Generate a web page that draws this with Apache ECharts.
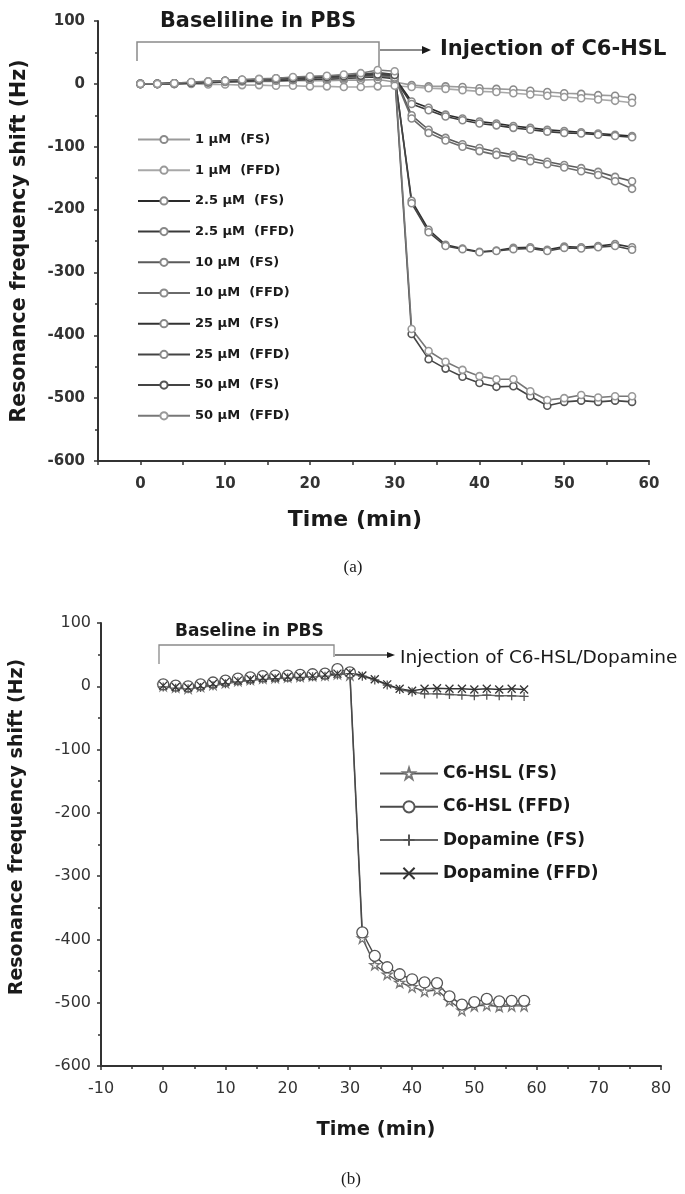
<!DOCTYPE html>
<html><head><meta charset="utf-8">
<script src="https://cdn.jsdelivr.net/npm/echarts@6/dist/echarts.min.js"></script>
<style>html,body{margin:0;padding:0;background:#fff}#c{width:685px;height:1194px}</style>
</head><body><div id="c"></div>
<script>
// ---------- DATA ----------
const times = [0,2,4,6,8,10,12,14,16,18,20,22,24,26,28,30,32,34,36,38,40,42,44,46,48,50,52,54,56,58];

// Panel (a)
const namesA = ['1 μM  (FS)','1 μM  (FFD)','2.5 μM  (FS)','2.5 μM  (FFD)','10 μM  (FS)','10 μM  (FFD)','25 μM  (FS)','25 μM  (FFD)','50 μM  (FS)','50 μM  (FFD)'];
const a1FS   = [0,0,0,1,2,3,3,4,4,5,5,5,6,6,7, 3,-2,-4,-4,-5,-7,-8,-9,-11,-13,-15,-16,-18,-19,-22];
const a1FFD  = [0,0,0,0,-1,-1,-2,-2,-3,-3,-4,-4,-5,-5,-4, -3,-5,-7,-8,-10,-12,-13,-15,-17,-19,-21,-23,-25,-27,-30];
const a25FS  = [0,0,1,2,3,4,5,6,7,7,8,8,9,10,12, 10,-28,-38,-49,-55,-60,-63,-67,-70,-73,-75,-77,-79,-81,-83];
const a25FFD = [0,0,0,1,2,3,4,5,5,6,7,8,9,10,11, 8,-32,-42,-52,-58,-63,-66,-70,-73,-76,-78,-79,-81,-83,-85];
const a10FS  = [0,0,1,2,3,5,6,7,8,9,10,11,12,13,15, 12,-50,-73,-86,-96,-102,-108,-113,-118,-124,-129,-134,-140,-148,-155];
const a10FFD = [0,0,0,2,3,4,5,6,7,8,9,9,10,11,13, 10,-55,-78,-90,-100,-107,-113,-117,-123,-128,-133,-139,-145,-155,-167];
const a25uFS = [0,0,1,2,3,4,6,7,8,9,10,11,12,14,16, 14,-186,-232,-256,-262,-267,-265,-261,-260,-264,-259,-260,-258,-255,-260];
const a25uFFD= [0,0,1,2,4,5,6,7,9,10,11,12,13,15,18, 15,-190,-236,-258,-263,-268,-266,-263,-262,-266,-261,-262,-260,-258,-264];
const a50FS  = [0,0,1,2,3,5,6,7,8,9,10,11,12,13,15, 14,-398,-438,-453,-466,-476,-482,-481,-497,-512,-506,-504,-506,-504,-506];
const a50FFD = [0,0,1,3,4,5,7,8,9,11,12,13,15,17,22, 20,-390,-425,-442,-455,-465,-470,-470,-489,-503,-500,-495,-499,-497,-497];
const valuesA = [a1FS,a1FFD,a25FS,a25FFD,a10FS,a10FFD,a25uFS,a25uFFD,a50FS,a50FFD];

// Panel (b)
const namesB = ['C6-HSL (FS)','C6-HSL (FFD)','Dopamine (FS)','Dopamine (FFD)'];
const bC6FS  = [1,-1,-3,0,3,6,9,11,13,14,15,16,17,18,20, 18,-398,-440,-455,-468,-475,-482,-480,-497,-512,-505,-504,-506,-505,-505];
const bC6FFD = [3,1,0,3,6,9,12,14,16,17,17,18,19,20,27, 22,-389,-426,-444,-455,-463,-468,-469,-490,-503,-499,-494,-498,-497,-497];
const bDopFS = [-1,-3,-4,-2,1,4,7,9,11,12,13,14,15,16,18, 20,16,10,2,-5,-9,-12,-12,-13,-14,-15,-14,-15,-15,-16];
const bDopFFD= [1,-1,-2,1,4,7,9,11,13,14,15,16,16,18,20, 22,17,11,3,-4,-7,-4,-3,-4,-4,-5,-4,-5,-4,-5];
const valuesB = [bC6FS,bC6FFD,bDopFS,bDopFFD];

// Axis tick labels
const xTicksA = [0,10,20,30,40,50,60];

// ---------- STYLE ----------
const lineColorsA = ['#9a9a9a','#a8a8a8','#2a2a2a','#3a3a3a','#5a5a5a','#6a6a6a','#333','#444','#444','#777'];
const markColorsA = ['#8a8a8a','#999','#888','#888','#888','#8a8a8a','#888','#8a8a8a','#555','#999'];
const lineColorsB = ['#555','#4a4a4a','#666','#333'];
const markColorsB = ['#777','#555','#555','#333'];
const STAR = 'path://M50,2L61,38L98,38L68,60L79,96L50,74L21,96L32,60L2,38L39,38Z';
const PLUS = 'path://M0,50L100,50M50,0L50,100';
const CROSS = 'path://M0,0L100,100M100,0L0,100';
const shapesB = [STAR,'circle',PLUS,CROSS];
const sizesB = [10,11,9,8];

const FONT = 'DejaVu Sans';
const axisLine = {show:true, onZero:false, lineStyle:{color:'#333', width:2}};
const tick = {show:true, length:4, lineStyle:{color:'#333', width:1.5}};
const minor = {show:true, splitNumber:2, length:3, lineStyle:{color:'#333', width:1.5}};

const series = [];
namesA.forEach((n,i)=>{
  series.push({
    name:n, type:'line', xAxisIndex:0, yAxisIndex:0,
    data: times.map((t,k)=>[t, valuesA[i][k]]),
    symbol:'circle', symbolSize:7,
    lineStyle:{color:lineColorsA[i], width:1.6},
    itemStyle:{color:'#fff', borderColor:markColorsA[i], borderWidth:1.6},
    emphasis:{disabled:true}, animation:false
  });
});
namesB.forEach((n,i)=>{
  series.push({
    name:n, type:'line', xAxisIndex:1, yAxisIndex:1,
    data: times.map((t,k)=>[t, valuesB[i][k]]),
    symbol:shapesB[i], symbolSize:sizesB[i],
    lineStyle:{color:lineColorsB[i], width:1.4},
    itemStyle:{color:'#fff', borderColor:markColorsB[i], borderWidth:1.3},
    emphasis:{disabled:true}, animation:false
  });
});

function txt(text, x, y, font, align, rot) {
  return {type:'text', x:x, y:y, rotation:rot || 0,
    style:{text:text, font:font, fill:'#1a1a1a', align:align || 'left', verticalAlign:'middle'}};
}

const chart = echarts.init(document.getElementById('c'), null, {renderer:'canvas'});
chart.setOption({
  backgroundColor:'#fff',
  animation:false,
  grid:[
    {left:98, top:21, width:551, height:440},
    {left:101, top:623, width:560, height:443}
  ],
  xAxis:[
    {type:'value', gridIndex:0, min:-5, max:60, interval:5,
     axisLine:axisLine, splitLine:{show:false}, axisTick:tick,
     axisLabel:{margin:16, fontFamily:FONT, fontWeight:'bold', fontSize:15, color:'#333',
       formatter:v=> xTicksA.includes(v)? String(v):''}},
    {type:'value', gridIndex:1, min:-10, max:80, interval:10,
     axisLine:axisLine, splitLine:{show:false}, axisTick:tick, minorTick:minor,
     axisLabel:{margin:15, fontFamily:FONT, fontSize:16, color:'#333'}}
  ],
  yAxis:[
    {type:'value', gridIndex:0, min:-600, max:100, interval:100,
     axisLine:axisLine, splitLine:{show:false}, axisTick:tick, minorTick:minor,
     axisLabel:{margin:13, fontFamily:FONT, fontWeight:'bold', fontSize:15, color:'#333'}},
    {type:'value', gridIndex:1, min:-600, max:100, interval:100,
     axisLine:axisLine, splitLine:{show:false}, axisTick:tick, minorTick:minor,
     axisLabel:{margin:10, fontFamily:FONT, fontSize:16, color:'#333'}}
  ],
  legend:[
    {data:namesA, orient:'vertical', left:132, top:128, itemWidth:52, itemHeight:9, itemGap:17.7,
     textStyle:{fontFamily:FONT, fontWeight:'bold', fontSize:13, color:'#1a1a1a'},
     selectedMode:false},
    {data:namesB, orient:'vertical', left:374, top:760, itemWidth:58, itemHeight:14, itemGap:16.3,
     textStyle:{fontFamily:FONT, fontWeight:'bold', fontSize:17, color:'#1a1a1a'},
     selectedMode:false}
  ],
  graphic:[
    // axis titles
    txt('Resonance frequency shift (Hz)', 20, 241, 'bold 20.5px "DejaVu Sans"', 'center', Math.PI/2),
    txt('Time (min)', 355, 520, 'bold 22px "DejaVu Sans"', 'center'),
    txt('Resonance frequency shift (Hz)', 17, 827, 'bold 19px "DejaVu Sans"', 'center', Math.PI/2),
    txt('Time (min)', 376, 1130, 'bold 19.5px "DejaVu Sans"', 'center'),
    // panel (a) annotations
    txt('Baseliline in PBS', 160, 22, 'bold 20.8px "DejaVu Sans"'),
    {type:'polyline', shape:{points:[[137,61],[137,42],[379,42],[379,66]]}, style:{stroke:'#8a8a8a', lineWidth:1.5, fill:null}},
    {type:'line', shape:{x1:380,y1:50,x2:424,y2:50}, style:{stroke:'#666', lineWidth:1.5}},
    {type:'polygon', shape:{points:[[422,46],[431,50],[422,54]]}, style:{fill:'#1a1a1a'}},
    txt('Injection of C6-HSL', 440, 50, 'bold 21px "DejaVu Sans"'),
    txt('(a)', 353, 568, '17px "Liberation Serif"', 'center'),
    // panel (b) annotations
    txt('Baseline in PBS', 175, 632, 'bold 17px "DejaVu Sans"'),
    {type:'polyline', shape:{points:[[159,664],[159,645],[334,645],[334,657]]}, style:{stroke:'#8a8a8a', lineWidth:1.3, fill:null}},
    {type:'line', shape:{x1:335,y1:655,x2:389,y2:655}, style:{stroke:'#555', lineWidth:1.3}},
    {type:'polygon', shape:{points:[[387,652],[395,655],[387,658]]}, style:{fill:'#1a1a1a'}},
    txt('Injection of C6-HSL/Dopamine', 400, 658, '18.5px "DejaVu Sans"'),
    txt('(b)', 351, 1180, '17px "Liberation Serif"', 'center')
  ],
  series:series
});
</script>
</body></html>
